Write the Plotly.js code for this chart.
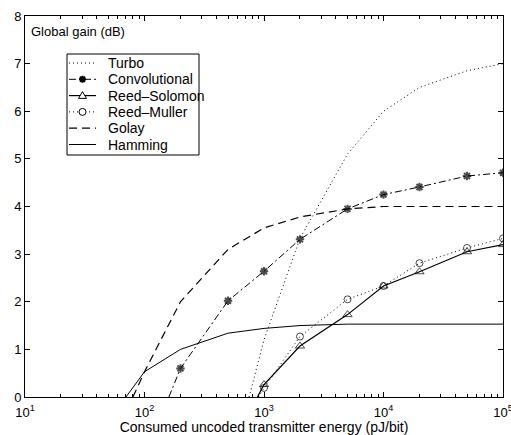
<!DOCTYPE html>
<html>
<head>
<meta charset="utf-8">
<script src="https://cdn.plot.ly/plotly-3.0.1.min.js"></script>
<style>html,body{margin:0;padding:0;background:#fff;}#chart{width:511px;height:435px;}</style>
</head>
<body>
<div id="chart"></div>
<script>
// Data
const turboX = [750, 1000, 2000, 5000, 10000, 20000, 50000, 100000];
const turboY = [0, 1.2, 3.33, 5.1, 6.0, 6.5, 6.85, 7.0];

const convX = [160, 200, 500, 1000, 2000, 5000, 10000, 20000, 50000, 100000];
const convY = [0, 0.6, 2.02, 2.64, 3.31, 3.95, 4.25, 4.41, 4.64, 4.71];

const rsX = [880, 1000, 2000, 5000, 10000, 20000, 50000, 100000];
const rsY = [0, 0.26, 1.07, 1.73, 2.33, 2.63, 3.05, 3.2];

const rmX = [900, 1000, 2000, 5000, 10000, 20000, 50000, 100000];
const rmY = [0, 0.19, 1.27, 2.05, 2.33, 2.81, 3.13, 3.33];

const golayX = [80, 100, 200, 500, 1000, 2000, 5000, 10000, 20000, 50000, 100000];
const golayY = [0, 0.53, 2.0, 3.1, 3.55, 3.78, 3.95, 4.0, 4.0, 4.0, 4.0];

const hammingX = [70, 100, 200, 500, 1000, 2000, 5000, 10000, 20000, 50000, 100000];
const hammingY = [0, 0.53, 1.0, 1.34, 1.44, 1.5, 1.53, 1.53, 1.53, 1.53, 1.53];

const seriesNames = ["Turbo", "Convolutional", "Reed\u2013Solomon", "Reed\u2013Muller", "Golay", "Hamming"];
const xTickVals = [10, 100, 1000, 10000, 100000];
const xTickText = ["10<sup>1</sup>", "10<sup>2</sup>", "10<sup>3</sup>", "10<sup>4</sup>", "10<sup>5</sup>"];
const yTickVals = [0, 1, 2, 3, 4, 5, 6, 7, 8];

// ---- styles (kept separate from data) ----
const K = '#000';
const DOT = '1px,3px';
const DASH = '8px,5px';
const DASHDOT = '7px,3px,2px,3px';
const seriesDash = [DOT, DASHDOT, 'solid', DOT, DASH, 'solid'];
const seriesWidth = [1, 1, 1.2, 1, 1.2, 1];
const seriesMarker = [null, 'asterisk', 'triangle', 'circle', null, null];

// minor ticks for the log axis (2..9 times each decade)
const minorVals = [];
for (let d = 10; d < 100000; d *= 10) {
  for (let m = 2; m <= 9; m++) minorVals.push(d * m);
}

function hideFirst(n, size) {
  return Array.from({length: n}, (_, i) => i === 0 ? 0 : size);
}

const traces = [
  {x: turboX, y: turboY, name: seriesNames[0], mode: 'lines',
   line: {color: K, width: seriesWidth[0], dash: seriesDash[0]}},
  {x: convX, y: convY, name: seriesNames[1], mode: 'lines+markers',
   line: {color: K, width: seriesWidth[1], dash: seriesDash[1]},
   marker: {symbol: 'asterisk-open', size: hideFirst(convX.length, 7), color: K, line: {color: K, width: 2}}},
  {x: rsX, y: rsY, name: seriesNames[2], mode: 'lines+markers',
   line: {color: K, width: seriesWidth[2], dash: seriesDash[2]},
   marker: {symbol: 'triangle-up-open', size: hideFirst(rsX.length, 8), color: K, line: {color: K, width: 1}}},
  {x: rmX, y: rmY, name: seriesNames[3], mode: 'lines+markers',
   line: {color: K, width: seriesWidth[3], dash: seriesDash[3]},
   marker: {symbol: 'circle-open', size: hideFirst(rmX.length, 7), color: K, line: {color: K, width: 1}}},
  {x: golayX, y: golayY, name: seriesNames[4], mode: 'lines',
   line: {color: K, width: seriesWidth[4], dash: seriesDash[4]}},
  {x: hammingX, y: hammingY, name: seriesNames[5], mode: 'lines',
   line: {color: K, width: seriesWidth[5], dash: seriesDash[5]}}
];

const FAM = '"Liberation Sans", Arial, Helvetica, sans-serif';
const font13 = {family: FAM, size: 13, color: K};
const font14 = {family: FAM, size: 14, color: K};

// ---- compact legend box (MATLAB style) drawn in paper coordinates ----
const M = {l: 25, r: 8, t: 16, b: 38};
const W = 511, H = 435;
const PW = W - M.l - M.r, PH = H - M.t - M.b;
const px = v => (v - M.l) / PW;
const py = v => (H - M.b - v) / PH;

const shapes = [];
const annotations = [];
const LEG = {left: 67, right: 199, top: 54, bottom: 155, row0: 63, rowStep: 16.3,
             lineX0: 69, lineX1: 96, textX: 106};
shapes.push({type: 'rect', xref: 'paper', yref: 'paper',
  x0: px(LEG.left), x1: px(LEG.right), y0: py(LEG.bottom), y1: py(LEG.top),
  line: {color: K, width: 1}, fillcolor: '#fff', layer: 'above'});
seriesNames.forEach((name, i) => {
  const yy = py(LEG.row0 + i * LEG.rowStep);
  shapes.push({type: 'line', xref: 'paper', yref: 'paper',
    x0: px(LEG.lineX0), x1: px(LEG.lineX1), y0: yy, y1: yy, layer: 'above',
    line: {color: K, width: seriesWidth[i], dash: seriesDash[i]}});
  const cx = px((LEG.lineX0 + LEG.lineX1) / 2);
  const mk = seriesMarker[i];
  const base = {xref: 'paper', yref: 'paper', xsizemode: 'pixel', ysizemode: 'pixel',
    xanchor: cx, yanchor: yy, layer: 'above'};
  if (mk === 'circle') {
    shapes.push(Object.assign({type: 'circle', x0: -3.5, x1: 3.5, y0: -3.5, y1: 3.5,
      line: {color: K, width: 1}, fillcolor: '#fff'}, base));
  } else if (mk === 'triangle') {
    shapes.push(Object.assign({type: 'path', path: 'M-4,-2.8L4,-2.8L0,4Z',
      line: {color: K, width: 1}, fillcolor: '#fff'}, base));
  } else if (mk === 'asterisk') {
    shapes.push(Object.assign({type: 'path',
      path: 'M-3.5,0L3.5,0M0,-3.5L0,3.5M-2.5,-2.5L2.5,2.5M-2.5,2.5L2.5,-2.5',
      line: {color: K, width: 2}}, base));
  }
  annotations.push({text: name, xref: 'paper', yref: 'paper', x: px(LEG.textX), y: yy,
    xanchor: 'left', yanchor: 'middle', showarrow: false, font: font14});
});

annotations.push({
  text: 'Global gain (dB)', xref: 'paper', yref: 'paper', x: 0, y: 1,
  xanchor: 'left', yanchor: 'top', xshift: 4, yshift: -6, showarrow: false, font: font13
});

const layout = {
  width: W, height: H,
  margin: M,
  paper_bgcolor: '#fff', plot_bgcolor: '#fff',
  font: font13,
  showlegend: false,
  xaxis: {
    type: 'log', range: [1, 5],
    tickmode: 'array', tickvals: xTickVals, ticktext: xTickText,
    ticks: 'inside', ticklen: 5, tickcolor: K, tickwidth: 1,
    showline: true, linecolor: K, linewidth: 1, mirror: 'ticks',
    showgrid: false, zeroline: false,
    ticklabeloverflow: 'allow', ticklabelstandoff: 3,
    minor: {tickmode: 'array', tickvals: minorVals, ticks: 'inside', ticklen: 3, tickcolor: K, showgrid: false},
    title: {text: 'Consumed uncoded transmitter energy (pJ/bit)', font: font14, standoff: 1},
    tickfont: font13
  },
  yaxis: {
    range: [0, 8], tickmode: 'array', tickvals: yTickVals,
    ticks: 'inside', ticklen: 5, tickcolor: K, tickwidth: 1,
    showline: true, linecolor: K, linewidth: 1, mirror: 'ticks',
    showgrid: false, zeroline: false,
    tickfont: font13
  },
  shapes: shapes,
  annotations: annotations
};

Plotly.newPlot('chart', traces, layout, {staticPlot: true, displayModeBar: false});
</script>
</body>
</html>
